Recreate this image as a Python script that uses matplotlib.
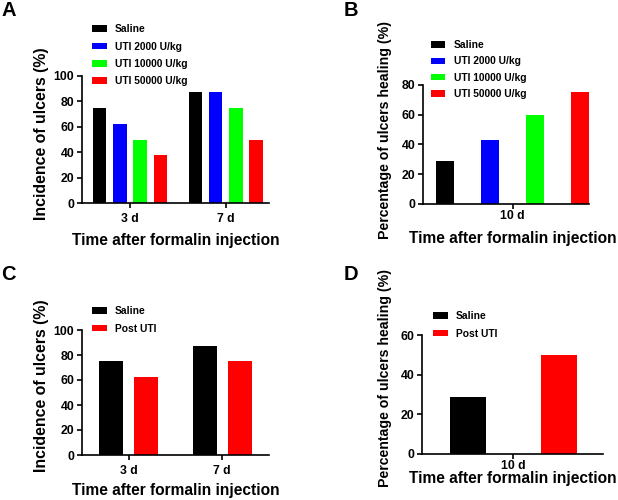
import matplotlib
matplotlib.use('Agg')
import matplotlib.pyplot as plt
import numpy as np

plt.rcParams['font.family'] = ['Liberation Sans', 'DejaVu Sans']
plt.rcParams['font.weight'] = 'bold'
plt.rcParams['axes.linewidth'] = 1.2

# ---------------- data ----------------
dose_groups = ['Saline', 'UTI 2000 U/kg', 'UTI 10000 U/kg', 'UTI 50000 U/kg']
dose_colors = ['#000000', '#0000ff', '#00ff00', '#ff0000']
days_inc = ['3 d', '7 d']
incidence_dose = [[75, 87.5],     # Saline
                  [62.5, 87.5],   # UTI 2000
                  [50, 75],       # UTI 10000
                  [37.5, 50]]     # UTI 50000
healing_dose = [28.6, 42.9, 60, 75]

post_groups = ['Saline', 'Post UTI']
post_colors = ['#000000', '#ff0000']
incidence_post = [[75, 87.5],
                  [62.5, 75]]
healing_post = [28.6, 50]

XLABEL = 'Time after formalin injection'

W, H = 618, 500
fig = plt.figure(figsize=(W / 100, H / 100), dpi=100)


def px_axes(l, t, r, b):
    # axes from pixel box (left, top, right, bottom)
    return fig.add_axes([l / W, 1 - b / H, (r - l) / W, (b - t) / H])


def style(ax, ylabel, ymax, ystep, ylab_xy, xlab_xy, ylab_size, xpad):
    ax.spines['top'].set_visible(False)
    ax.spines['right'].set_visible(False)
    ax.set_ylim(0, ymax)
    ax.set_yticks(np.arange(0, ymax + 1, ystep))
    ax.tick_params(axis='both', labelsize=8.8, width=1.2, length=3.5, pad=2)
    ax.tick_params(axis='x', pad=xpad)
    ax.set_ylabel(ylabel, fontsize=ylab_size, fontweight='bold', va='center')
    ax.yaxis.set_label_coords(ylab_xy[0] / W, 1 - ylab_xy[1] / H, transform=fig.transFigure)
    ax.set_xlabel(XLABEL, fontsize=11.2, fontweight='bold', va='center')
    ax.xaxis.set_label_coords(xlab_xy[0] / W, 1 - xlab_xy[1] / H, transform=fig.transFigure)


leg_kw = dict(bbox_transform=fig.transFigure, loc='upper left', frameon=False, fontsize=7.4,
              handlelength=1.4, handleheight=0.6, handletextpad=0.8, borderaxespad=0)

# ---------------- A ----------------
axA = px_axes(82, 76, 269, 203)
step, bw = 0.211, 0.14
for i, (name, vals) in enumerate(zip(dose_groups, incidence_dose)):
    x = np.arange(len(days_inc)) + (i - 1.5) * step
    axA.bar(x, vals, width=bw, color=dose_colors[i], label=name)
axA.set_xticks(np.arange(len(days_inc)))
axA.set_xticklabels(days_inc)
axA.set_xlim(-0.5, 1.45)
style(axA, 'Incidence of ulcers (%)', 100, 20, (42, 134), (176, 241), 11.4, 4)
axA.legend(bbox_to_anchor=(88 / W, 1 - 20 / H), labelspacing=0.72, **leg_kw)

# ---------------- B ----------------
axB = px_axes(423, 85, 589, 204)
for i, (name, v) in enumerate(zip(dose_groups, healing_dose)):
    axB.bar(i, v, width=0.4, color=dose_colors[i], label=name)
axB.set_xticks([1.5])
axB.set_xticklabels(['10 d'])
axB.set_xlim(-0.49, 3.2)
style(axB, 'Percentage of ulcers healing (%)', 80, 20, (385, 130), (513, 238), 10.2, 0.5)
axB.legend(bbox_to_anchor=(427 / W, 1 - 36 / H), labelspacing=0.62, **leg_kw)

# ---------------- C ----------------
axC = px_axes(82, 330, 269, 455)
step, bw = 0.373, 0.256
for i, (name, vals) in enumerate(zip(post_groups, incidence_post)):
    x = np.arange(len(days_inc)) + (i - 0.5) * step
    axC.bar(x, vals, width=bw, color=post_colors[i], label=name)
axC.set_xticks(np.arange(len(days_inc)))
axC.set_xticklabels(days_inc)
axC.set_xlim(-0.5, 1.5)
style(axC, 'Incidence of ulcers (%)', 100, 20, (42, 386), (176, 490), 11.4, 4)
axC.legend(bbox_to_anchor=(88 / W, 1 - 302 / H), labelspacing=0.72, **leg_kw)

# ---------------- D ----------------
axD = px_axes(422, 335, 603, 454)
for i, (name, v) in enumerate(zip(post_groups, healing_post)):
    axD.bar(i, v, width=0.4, color=post_colors[i], label=name)
axD.set_xticks([0.5])
axD.set_xticklabels(['10 d'])
axD.set_xlim(-0.51, 1.49)
style(axD, 'Percentage of ulcers healing (%)', 60, 20, (385, 378), (513, 479), 10.2, 0.5)
axD.legend(bbox_to_anchor=(429 / W, 1 - 307 / H), labelspacing=0.72, **leg_kw)

# panel letters
for letter, (x, y) in zip('ABCD', [(1, 1), (344, 1), (1, 265), (344, 265)]):
    fig.text(x / W, 1 - y / H, letter, fontsize=14.5, fontweight='bold', ha='left', va='top')

fig.savefig('out.png', dpi=100)
